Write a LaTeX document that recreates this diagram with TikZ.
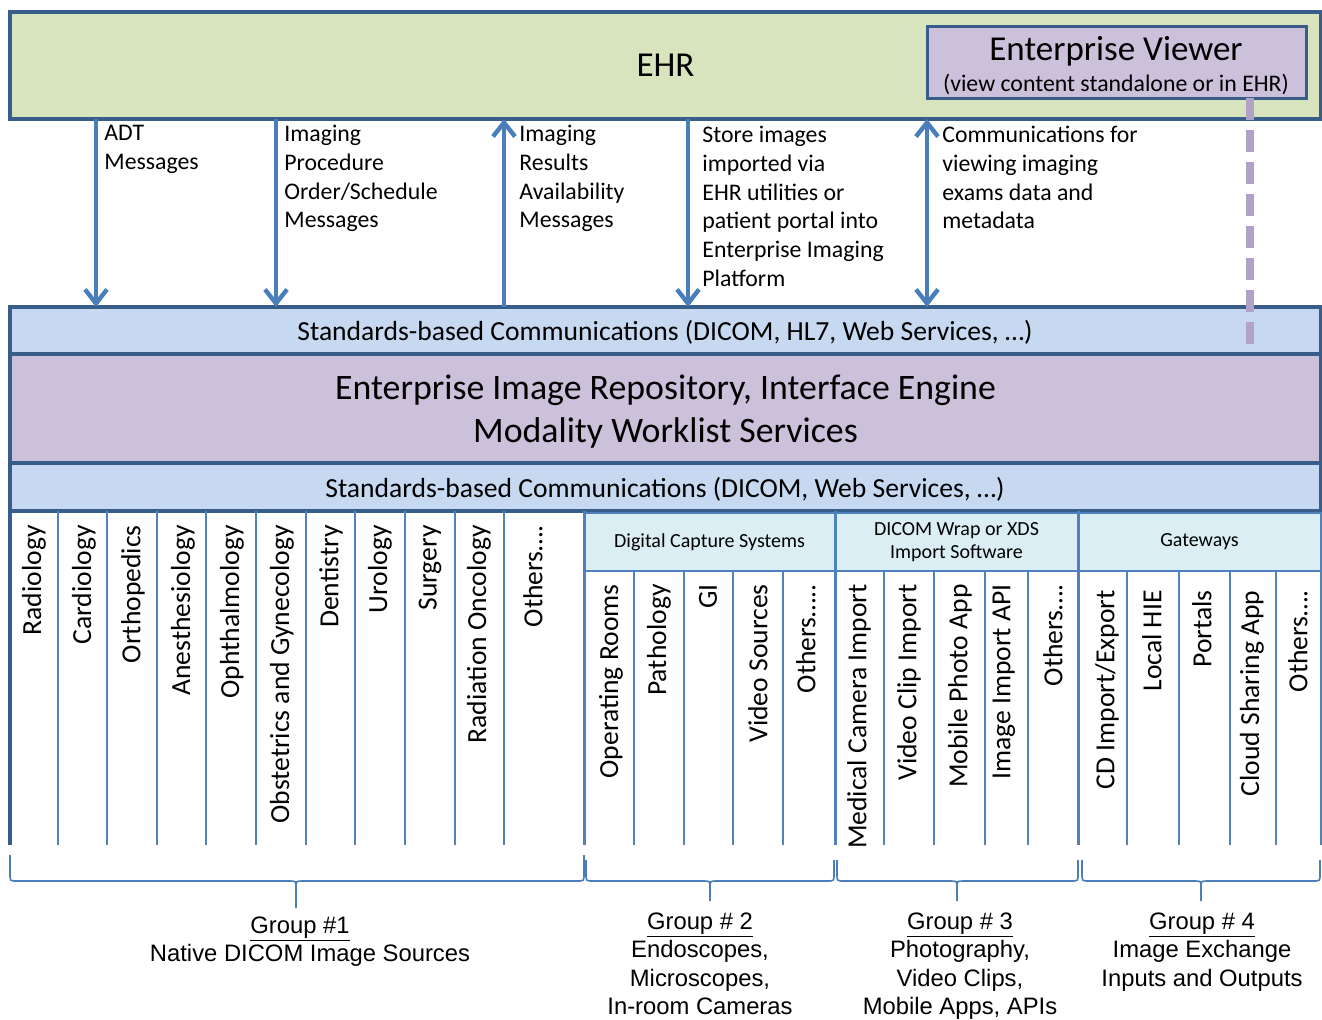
\documentclass[tikz,border=0pt]{standalone}
\usepackage{fontspec}
\setmainfont{Carlito}
\newfontfamily\arialfont{Liberation Sans}
\usepackage{tikz}
\usetikzlibrary{arrows.meta}
\definecolor{ehrgreen}{HTML}{D7E4BD}
\definecolor{lavender}{HTML}{CCC1DA}
\definecolor{stdblue}{HTML}{C6D9F1}
\definecolor{headcyan}{HTML}{DBEEF4}
\definecolor{frameblue}{HTML}{385D8A}
\definecolor{arrowblue}{HTML}{4A7EBB}
\definecolor{lineblue}{HTML}{4F81BD}
\definecolor{dashpurple}{HTML}{B3A2C7}
\newcommand{\bigsize}{\fontsize{17.5}{21.5}\selectfont}
\newcommand{\reposize}{\fontsize{17.9}{21.5}\selectfont}
\newcommand{\msgsize}{\fontsize{11.9}{14.35}\selectfont}
\newcommand{\stdsize}{\fontsize{13.8}{16.5}\selectfont}
\newcommand{\colsize}{\fontsize{13.8}{16.5}\selectfont}
\newcommand{\headsize}{\fontsize{10}{11.7}\selectfont}
\newcommand{\groupsize}{\arialfont\fontsize{11.9}{14.25}\selectfont}
\tikzstyle{layer}=[draw=frameblue, line width=1.6pt, inner sep=0, outer sep=0, minimum width=655.5pt]
\tikzstyle{ehrbox}=[layer, fill=ehrgreen, minimum height=53.5pt, font=\bigsize]
\tikzstyle{viewerbox}=[draw=frameblue, line width=1.5pt, fill=lavender, inner sep=0, outer sep=0,
                       minimum width=189.5pt, minimum height=36pt]
\tikzstyle{stdbar}=[layer, fill=stdblue, font=\stdsize]
\tikzstyle{repobox}=[layer, fill=lavender, minimum height=54.5pt]
\tikzstyle{msgarrow}=[draw=arrowblue, line width=2.2pt, -{Straight Barb[length=7pt, width=11pt]}]
\tikzstyle{msgboth}=[msgarrow, {Straight Barb[length=7pt, width=11pt]}-{Straight Barb[length=7pt, width=11pt]}]
\tikzstyle{msglabel}=[anchor=north west, align=left, inner sep=0, font=\msgsize]
\tikzstyle{viewerlink}=[draw=dashpurple, line width=3.8pt, dash pattern=on 11pt off 5pt]
\tikzstyle{headbox}=[draw=lineblue, line width=1.4pt, fill=headcyan, inner sep=0, minimum height=29pt,
                     align=center, font=\headsize]
\tikzstyle{collabel}=[rotate=90, anchor=east, inner sep=0, font=\colsize]
\tikzstyle{coldivider}=[draw=lineblue, line width=0.7pt]
\tikzstyle{groupedge}=[draw=lineblue, line width=1.5pt]
\tikzstyle{groupbrace}=[draw=arrowblue, line width=0.8pt]
\tikzstyle{grouplabel}=[anchor=north, align=center, inner sep=0, font=\groupsize]

\begin{document}
\begin{tikzpicture}[x=0.5pt, y=-0.5pt]
    \useasboundingbox (0,0) rectangle (1322,1019);

    % EHR and the enterprise layers
    \node[ehrbox] (ehr) at (665.5,65.5) {EHR};
    \node[viewerbox] (viewer) at (1116.5,62) {};
    \node[anchor=base, inner sep=0, font=\bigsize] (viewertitle) at (1116,60) {Enterprise Viewer};
    \node[anchor=base, inner sep=0, font=\msgsize] (viewernote) at (1116,91.5) {(view content standalone or in EHR)};
    \node[stdbar, minimum height=23.5pt] (stdtop) at (665.5,330.5) {};
    \node[anchor=base, inner sep=0, font=\stdsize] (stdtoptext) at (665,340) {Standards-based Communications (DICOM, HL7, Web Services, …)};
    \node[repobox] (repo) at (665.5,408.5) {};
    \node[anchor=base, inner sep=0, font=\reposize] (repotext1) at (665.5,399.5) {Enterprise Image Repository, Interface Engine};
    \node[anchor=base, inner sep=0, font=\reposize] (repotext2) at (665.5,442.5) {Modality Worklist Services};
    \node[stdbar, minimum height=24pt] (stdbottom) at (665.5,487) {};
    \node[anchor=base, inner sep=0, font=\stdsize] (stdbottomtext) at (665,497) {Standards-based Communications (DICOM, Web Services, …)};

    % message arrows
    \coordinate (adt) at (96,0);
    \coordinate (order) at (276,0);
    \coordinate (results) at (504,0);
    \coordinate (store) at (688,0);
    \coordinate (viewing) at (927,0);
    \draw[msgarrow] (ehr.south -| adt) -- (stdtop.north -| adt);
    \draw[msgarrow] (ehr.south -| order) -- (stdtop.north -| order);
    \draw[msgarrow] (stdtop.north -| results) -- (ehr.south -| results);
    \draw[msgarrow] (ehr.south -| store) -- (stdtop.north -| store);
    \draw[msgboth] (ehr.south -| viewing) -- (stdtop.north -| viewing);
    \node[msglabel] (adtlabel) at (104,125) {ADT\\Messages};
    \node[msglabel] (orderlabel) at (284,125) {Imaging\\Procedure\\Order/Schedule\\Messages};
    \node[msglabel] (resultslabel) at (519,125) {Imaging\\Results\\Availability\\Messages};
    \node[msglabel] (storelabel) at (702,126) {Store images\\imported via\\EHR utilities or\\patient portal into\\Enterprise Imaging\\Platform};
    \node[msglabel] (viewinglabel) at (942,126) {Communications for\\viewing imaging\\exams data and\\metadata};

    % viewer link
    \coordinate (linkend) at (1250,347);
    \draw[viewerlink] (viewer.south -| linkend) -- (linkend);

    % group headers
    \node[headbox, minimum width=125.5pt] (capture) at (709.5,542) {Digital Capture Systems};
    \node[headbox, minimum width=121.5pt] (wrap) at (956.5,542) {DICOM Wrap or XDS\\Import Software};
    \node[headbox, minimum width=121.5pt] (gateways) at (1199.5,542) {Gateways};

    % columns
    \foreach \x in {58,107,157,206,256,306,355,405,455,504}
        \draw[coldivider] (\x,511) -- (\x,845);
    \foreach \x in {634,684,733,783,884,934,985,1028,1127,1179,1230,1276,1321}
        \draw[coldivider] (\x,571) -- (\x,845);
    \foreach \x in {584,835,1078}
        \draw[groupedge] (\x,511) -- (\x,845);
    \draw[draw=frameblue, line width=1.6pt] (10,510) -- (10,845);

    \foreach \x/\name [count=\i] in {34/Radiology, 84/Cardiology, 133/Orthopedics, 183/Anesthesiology,
        232/Ophthalmology, 282/Obstetrics and Gynecology, 331/Dentistry, 380/Urology, 430/Surgery,
        479/Radiation Oncology, 533/Others….}
        \node[collabel] (native\i) at (\x,525) {\name};
    \foreach \x/\name [count=\i] in {611/Operating Rooms, 659/Pathology, 708/GI, 758/Video Sources, 806/Others…..}
        \node[collabel] (capture\i) at (\x,584) {\name};
    \foreach \x/\name [count=\i] in {859/Medical Camera Import, 909/Video Clip Import, 960/Mobile Photo App,
        1004/Image Import API, 1053/Others….}
        \node[collabel] (wrap\i) at (\x,584) {\name};
    \foreach \x/\name [count=\i] in {1107/{CD Import/Export}, 1152/Local HIE, 1202/Portals,
        1252/Cloud Sharing App, 1298/Others….}
        \node[collabel] (gateways\i) at (\x,590) {\name};

    % groups
    \foreach \a/\m/\b/\t/\tip in {10/296/584/855/908, 586/710/834/860/901, 837/957/1078/860/901, 1082/1201/1320/860/901} {
        \draw[groupbrace] (\a,\t) -- (\a,874) .. controls (\a,881) .. (\a+7,881) -- (\m-6,881)
            .. controls (\m,881) .. (\m,888) -- (\m,\tip);
        \draw[groupbrace] (\b,\t) -- (\b,874) .. controls (\b,881) .. (\b-7,881) -- (\m+6,881)
            .. controls (\m,881) .. (\m,888);
    }
    \node[grouplabel] (group1) at (300,916) {\underline{Group \#1}};
    \node[grouplabel] (group1text) at (310,944) {Native DICOM Image Sources};
    \node[grouplabel] (group2) at (700,912) {\underline{Group \# 2}\\Endoscopes,\\Microscopes,\\In-room Cameras};
    \node[grouplabel] (group3) at (960,912) {\underline{Group \# 3}\\Photography,\\Video Clips,\\Mobile Apps, APIs};
    \node[grouplabel] (group4) at (1202,912) {\underline{Group \# 4}\\Image Exchange\\Inputs and Outputs};
\end{tikzpicture}
\end{document}
